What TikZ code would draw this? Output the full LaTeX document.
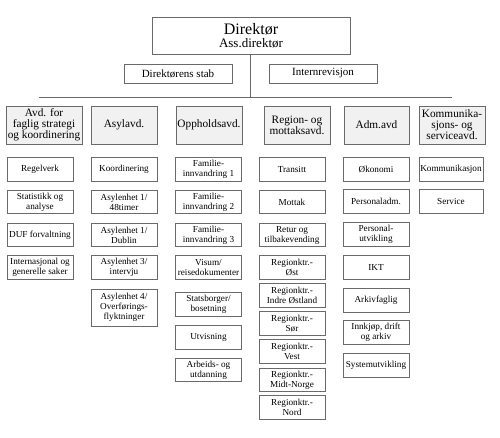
\documentclass[tikz,border=0pt]{standalone}
\usepackage{fontspec}
\setmainfont{Liberation Serif}
\usetikzlibrary{positioning}
\definecolor{boxline}{HTML}{6A6A6A}
\definecolor{deptfill}{HTML}{F1F1F1}

\begin{document}
\begin{tikzpicture}[x=1pt, y=-1pt,
    box/.style={draw=boxline, line width=0.8pt, inner sep=0pt, align=center},
    dept/.style={box, fill=deptfill, minimum width=66pt, minimum height=38pt, font=\fontsize{11.3}{11}\selectfont},
    unit/.style={box, minimum width=66pt, minimum height=23.5pt, font=\fontsize{9.2}{10}\selectfont},
    staff/.style={box, minimum width=108pt, minimum height=19pt, font=\fontsize{11}{12}\selectfont},
  ]
  \useasboundingbox (0,0) rectangle (500,437);
  % top
  \node[box, minimum width=198pt, minimum height=37pt] (dir) at (251,35.5)
    {\fontsize{16}{16}\selectfont Direktør\\[1pt]\fontsize{13}{13}\selectfont Ass.direktør};
  \node[staff] (stab) at (178,73.5) {Direktørens stab};
  \node[staff] (intrev) at (323,73.5) {Internrevisjon};
  \coordinate (bus) at (250,97);
  \coordinate (busl) at (39,97);
  \coordinate (busr) at (452,97);
  \draw[boxline, line width=0.8pt] (dir.south -| bus) -- (bus);
  \draw[boxline, line width=0.8pt] (busl) -- (busr);

  % departments
  \node[dept, minimum width=76pt] (avd) at (44,125) {Avd. for\\faglig strategi\\og koordinering};
  \node[dept] (asyl) at (124,125) {Asylavd.};
  \node[dept] (opph) at (209,125) {Oppholdsavd.};
  \node[dept] (region) at (297,125) {Region- og\\mottaksavd.};
  \node[dept, minimum width=65pt] (adm) at (376.5,125) {Adm.avd};
  \node[dept] (komm) at (452,125) {Kommunika-\\sjons- og\\serviceavd.};

  % Avd. for faglig strategi
  \node[unit] (avd1) at (40,169.5) {Regelverk};
  \node[unit] (avd2) at (40,202) {Statistikk og\\analyse};
  \node[unit] (avd3) at (40,235) {DUF forvaltning};
  \node[unit] (avd4) at (40,267.5) {Internasjonal og\\generelle saker};

  % Asylavd.
  \node[unit] (asyl1) at (124,169.5) {Koordinering};
  \node[unit] (asyl2) at (124,202) {Asylenhet 1/\\48timer};
  \node[unit] (asyl3) at (124,235) {Asylenhet 1/\\Dublin};
  \node[unit] (asyl4) at (124,267.5) {Asylenhet 3/\\intervju};
  \node[unit, minimum height=37pt] (asyl5) at (124,307.5) {Asylenhet 4/\\Overførings-\\flyktninger};

  % Oppholdsavd.
  \node[unit] (opph1) at (208.5,169.5) {Familie-\\innvandring 1};
  \node[unit] (opph2) at (208.5,202) {Familie-\\innvandring 2};
  \node[unit] (opph3) at (208.5,235) {Familie-\\innvandring 3};
  \node[unit] (opph4) at (208.5,267.5) {Visum/\\reisedokumenter};
  \node[unit] (opph5) at (208.5,304.5) {Statsborger/\\bosetning};
  \node[unit] (opph6) at (208.5,337.5) {Utvisning};
  \node[unit] (opph7) at (208.5,370) {Arbeids- og\\utdanning};

  % Region- og mottaksavd.
  \node[unit] (reg1) at (292,169.5) {Transitt};
  \node[unit] (reg2) at (292,202) {Mottak};
  \node[unit] (reg3) at (292,235) {Retur og\\tilbakevending};
  \node[unit] (reg4) at (292,267.5) {Regionktr.-\\Øst};
  \node[unit] (reg5) at (292,295.5) {Regionktr.-\\Indre Østland};
  \node[unit] (reg6) at (292,323.5) {Regionktr.-\\Sør};
  \node[unit] (reg7) at (292,351.5) {Regionktr.-\\Vest};
  \node[unit] (reg8) at (292,380) {Regionktr.-\\Midt-Norge};
  \node[unit] (reg9) at (292,407.5) {Regionktr.-\\Nord};

  % Adm.avd
  \node[unit] (adm1) at (376,169.5) {Økonomi};
  \node[unit] (adm2) at (376,201.5) {Personaladm.};
  \node[unit] (adm3) at (376,234.5) {Personal-\\utvikling};
  \node[unit] (adm4) at (376,267.5) {IKT};
  \node[unit] (adm5) at (376,300.5) {Arkivfaglig};
  \node[unit] (adm6) at (376,332.5) {Innkjøp, drift\\og arkiv};
  \node[unit] (adm7) at (376,365.5) {Systemutvikling};

  % Kommunikasjons- og serviceavd.
  \node[unit, minimum width=64pt] (komm1) at (451,169.5) {Kommunikasjon};
  \node[unit, minimum width=64pt] (komm2) at (451,201.5) {Service};
\end{tikzpicture}
\end{document}
